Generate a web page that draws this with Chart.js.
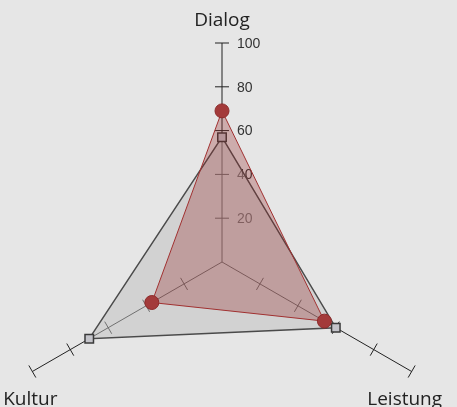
<!DOCTYPE html>
<html>
<head>
<meta charset="utf-8">
<script src="https://cdn.jsdelivr.net/npm/chart.js@4/dist/chart.umd.min.js"></script>
<style>
  html, body { margin: 0; padding: 0; background: #e6e6e6; overflow: hidden; }
  #wrap { width: 457px; height: 407px; overflow: hidden; }
  #box { position: relative; width: 457px; height: 481px; }
</style>
</head>
<body>
<div id="wrap"><div id="box"><canvas id="chart"></canvas></div></div>
<script>
// axes and values
const categories = ["Dialog", "Leistung", "Kultur"];
const seriesGray = [57, 60, 70];
const seriesRed = [69, 54, 37];
const tickValues = [20, 40, 60, 80, 100];

// tick marks across each axis + labels on the first axis
const axisTicks = {
    id: 'axisTicks',
    beforeDatasetsDraw(chart) {
        const scale = chart.scales.r;
        const ctx = chart.ctx;
        ctx.save();
        ctx.strokeStyle = '#222';
        ctx.lineWidth = 1;
        for (let i = 0; i < categories.length; i++) {
            const a = scale.getIndexAngle(i) - Math.PI / 2;
            const px = -Math.sin(a), py = Math.cos(a);
            tickValues.forEach(v => {
                const p = scale.getPointPosition(i, scale.getDistanceFromCenterForValue(v));
                ctx.beginPath();
                ctx.moveTo(p.x - px * 7, p.y - py * 7);
                ctx.lineTo(p.x + px * 7, p.y + py * 7);
                ctx.stroke();
            });
        }
        ctx.fillStyle = '#333';
        ctx.font = '14px "Liberation Sans"';
        ctx.textAlign = 'left';
        ctx.textBaseline = 'middle';
        tickValues.forEach(v => {
            const p = scale.getPointPosition(0, scale.getDistanceFromCenterForValue(v));
            ctx.fillText(String(v), p.x + 15, p.y + 1);
        });
        ctx.restore();
    },
    afterDraw(chart) {
        const scale = chart.scales.r;
        const ctx = chart.ctx;
        ctx.save();
        ctx.fillStyle = '#222';
        ctx.font = '19px "Open Sans"';
        ctx.textAlign = 'center';
        ctx.textBaseline = 'alphabetic';
        const offs = [[0, -17], [-7, 33], [-2, 33]];
        for (let i = 0; i < categories.length; i++) {
            const p = scale.getPointPosition(i, scale.drawingArea);
            ctx.fillText(categories[i], p.x + offs[i][0], p.y + offs[i][1]);
        }
        ctx.restore();
    }
};

new Chart(document.getElementById('chart'), {
    type: 'radar',
    data: {
        labels: categories,
        datasets: [{
            data: seriesGray,
            order: 2,
            backgroundColor: 'rgba(190, 190, 190, 0.5)',
            borderColor: '#4a4a4a',
            borderWidth: 1.5,
            pointStyle: 'rect',
            pointRadius: 6,
            pointBackgroundColor: '#c4c4ca',
            pointBorderColor: '#3a3a3a',
            pointBorderWidth: 1.5
        }, {
            data: seriesRed,
            order: 1,
            backgroundColor: 'rgba(150, 40, 40, 0.3)',
            borderColor: '#a03030',
            borderWidth: 1,
            pointStyle: 'circle',
            pointRadius: 7,
            pointBackgroundColor: '#a33a3a',
            pointBorderColor: '#8c2a2a',
            pointBorderWidth: 1
        }]
    },
    options: {
        responsive: true,
        maintainAspectRatio: false,
        animation: false,
        layout: { padding: { left: 3, right: 16, top: 43, bottom: 0 } },
        plugins: { legend: { display: false }, tooltip: { enabled: false } },
        scales: {
            r: {
                min: 0,
                max: 100,
                ticks: { display: false, stepSize: 20 },
                grid: { display: false },
                angleLines: { display: true, color: '#222', lineWidth: 1 },
                pointLabels: { display: false }
            }
        }
    },
    plugins: [axisTicks]
});
</script>
</body>
</html>
